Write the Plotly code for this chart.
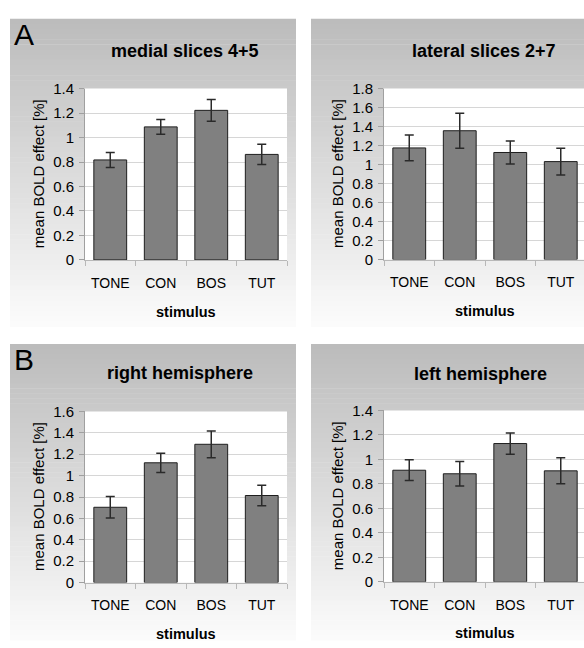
import plotly.graph_objects as go

W, H = 584, 648

categories = ["TONE", "CON", "BOS", "TUT"]

medial_vals = [0.817, 1.087, 1.222, 0.862]
medial_err = [0.061, 0.060, 0.089, 0.083]
lateral_vals = [1.175, 1.356, 1.127, 1.031]
lateral_err = [0.135, 0.185, 0.120, 0.140]
right_vals = [0.704, 1.120, 1.293, 0.814]
right_err = [0.100, 0.090, 0.125, 0.096]
left_vals = [0.912, 0.883, 1.130, 0.907]
left_err = [0.085, 0.100, 0.087, 0.106]

panel_titles = ["medial slices 4+5", "lateral slices 2+7", "right hemisphere", "left hemisphere"]
y_max = [1.4, 1.8, 1.6, 1.4]
series = [(medial_vals, medial_err), (lateral_vals, lateral_err),
          (right_vals, right_err), (left_vals, left_err)]

# layout geometry (pixels)
plot_boxes = [  # x0, x1, ytop, ybottom
    (85, 287, 81.7, 257.7),
    (384, 584, 81.7, 257.3),
    (85, 287, 413.3, 589.0),
    (384, 584, 412.3, 588.3),
]
panels = [  # x0, x1, y0, y1 of gray background
    (10, 296, 10, 326),
    (311, 584, 10, 326),
    (10, 296, 344, 648),
    (311, 584, 344, 648),
]
title_pos = [(185, 43), (484, 43), (180, 374), (480, 375)]
letters = [("A", 24, 26), ("B", 24, 360)]

def px(x):
    return x / W

def py(y):
    return 1 - y / H

FONT = "Liberation Sans, Arial, sans-serif"

fig = go.Figure()
shapes = []
annotations = []

# gradient backgrounds
top_c, bot_c = 188, 251
steps = 60
for (x0, x1, y0, y1) in panels:
    h = (y1 - y0) / steps
    for i in range(steps):
        t = i / (steps - 1)
        c = round(top_c + (bot_c - top_c) * t)
        col = f"rgb({c},{c},{c})"
        shapes.append(dict(type="rect", xref="paper", yref="paper",
                           x0=px(x0), x1=px(x1), y0=py(y0 + (i + 1) * h + 0.5), y1=py(y0 + i * h),
                           fillcolor=col, line=dict(width=0), layer="below"))

# white plot areas
for (x0, x1, yt, yb) in plot_boxes:
    shapes.append(dict(type="rect", xref="paper", yref="paper",
                       x0=px(x0), x1=px(x1), y0=py(yb), y1=py(yt),
                       fillcolor="white", line=dict(width=0), layer="below"))

for k in range(4):
    vals, errs = series[k]
    xa = "x" if k == 0 else f"x{k+1}"
    ya = "y" if k == 0 else f"y{k+1}"
    fig.add_trace(go.Bar(
        x=categories, y=vals, xaxis=xa, yaxis=ya,
        marker=dict(color="#808080", line=dict(color="#1e1e1e", width=1)),
        error_y=dict(type="data", array=errs, visible=True, color="#2a2a2a",
                     thickness=1.5, width=4.5),
        showlegend=False, hoverinfo="skip",
    ))
    x0, x1, yt, yb = plot_boxes[k]
    n = "" if k == 0 else str(k + 1)
    xr = [-0.5, 3.5]
    if x1 >= 584:
        xr = [-0.5, 3.5 - 2.0 / 50.3]
    fig.layout[f"xaxis{n}"] = dict(
        domain=[px(x0), px(x1)], anchor=ya, type="category", range=xr,
        showline=True, linecolor="#b8b8b8", linewidth=1,
        ticks="outside", tickson="boundaries", ticklen=5, tickcolor="#b8b8b8",
        tickfont=dict(family=FONT, size=14, color="black"),
        ticklabelstandoff=10,
        showgrid=False, zeroline=False, fixedrange=True,
    )
    fig.layout[f"yaxis{n}"] = dict(
        domain=[py(yb), py(yt)], anchor=xa, range=[0, y_max[k]], dtick=0.2,
        showline=True, linecolor="#a0a0a0", linewidth=1,
        ticks="outside", ticklen=5, tickcolor="#a0a0a0",
        tickfont=dict(family=FONT, size=15, color="black"),
        ticklabelstandoff=2,
        showgrid=True, gridcolor="#d6d6d6", gridwidth=1, zeroline=False,
        fixedrange=True,
    )
    # panel title
    tx, ty = title_pos[k]
    annotations.append(dict(text=f"<b>{panel_titles[k]}</b>", x=px(tx), y=py(ty),
                            xref="paper", yref="paper", showarrow=False,
                            xanchor="center", yanchor="middle",
                            font=dict(family=FONT, size=18, color="black")))
    # y title
    annotations.append(dict(text="mean BOLD effect [%]", x=px(x0 - 47), y=py((yt + yb) / 2),
                            xref="paper", yref="paper", showarrow=False, textangle=-90,
                            xanchor="center", yanchor="middle",
                            font=dict(family=FONT, size=15, color="black")))
    # x title
    annotations.append(dict(text="<b>stimulus</b>", x=px(x0 + 101), y=py(yb + 53),
                            xref="paper", yref="paper", showarrow=False,
                            xanchor="center", yanchor="middle",
                            font=dict(family=FONT, size=14.5, color="black")))

for (t, lx, ly) in letters:
    annotations.append(dict(text=t, x=px(lx), y=py(ly), xref="paper", yref="paper",
                            showarrow=False, xanchor="center", yanchor="middle",
                            font=dict(family=FONT, size=30, color="black")))

fig.update_layout(
    width=W, height=H, margin=dict(l=0, r=0, t=0, b=0),
    paper_bgcolor="white", plot_bgcolor="rgba(0,0,0,0)",
    bargap=0.35, shapes=shapes, annotations=annotations,
    font=dict(family=FONT, color="black"),
)

fig.write_html(
    "out.html",
    config={"displayModeBar": False},
    post_script="document.body.style.margin='0px';document.documentElement.style.overflow='hidden';",
)
